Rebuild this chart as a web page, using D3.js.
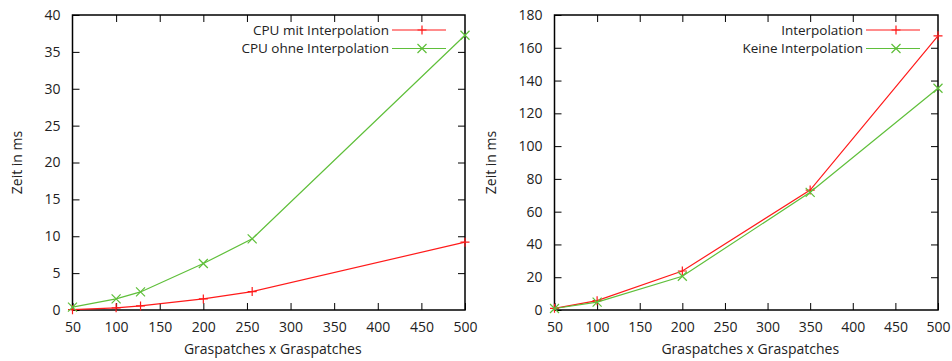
<!DOCTYPE html>
<html><head><meta charset="utf-8">
<script src="https://cdn.jsdelivr.net/npm/d3@7"></script>
<style>
body{margin:0;background:#fff;}
text{font-family:"Open Sans","Noto Sans",sans-serif;fill:#222;}
</style></head>
<body><svg id="c" width="952" height="361"></svg>
<script>
// Left chart
const leftXMit = [50, 100, 128, 200, 256, 500];
const leftMit = [0.05, 0.3, 0.55, 1.5, 2.5, 9.2];
const leftXOhne = [50, 100, 128, 200, 256, 500];
const leftOhne = [0.4, 1.5, 2.45, 6.3, 9.65, 37.25];
const leftNames = ["CPU mit Interpolation", "CPU ohne Interpolation"];
const leftYTicks = [0, 5, 10, 15, 20, 25, 30, 35, 40];
// Right chart
const rightX = [50, 100, 200, 350, 500];
const rightInterp = [1.0, 5.7, 23.8, 73.2, 167.3];
const rightKeine = [0.9, 4.8, 20.6, 71.8, 135.3];
const rightNames = ["Interpolation", "Keine Interpolation"];
const rightYTicks = [0, 20, 40, 60, 80, 100, 120, 140, 160, 180];
const xTicks = [50, 100, 150, 200, 250, 300, 350, 400, 450, 500];
const xLabel = "Graspatches x Graspatches";
const yLabel = "Zeit in ms";

const RED = "#ff1a1a", GREEN = "#5fbf3a";
const svg = d3.select("#c");

function chart(opts) {
  const {x0, x1, y0, y1, ymax, yTicks, series, names, legendRight, ylabX} = opts;
  const x = d3.scaleLinear().domain([50, 500]).range([x0, x1]);
  const y = d3.scaleLinear().domain([0, ymax]).range([y1, y0]);
  const g = svg.append("g");
  const tl = 7;
  g.append("g").attr("transform", `translate(0,${y1})`)
    .call(d3.axisBottom(x).tickValues(xTicks).tickSize(-tl).tickPadding(12))
    .call(a => { a.select(".domain").remove(); a.selectAll("text").style("font-size","14px").attr("fill","#222"); a.selectAll("line").attr("stroke","#000"); });
  g.append("g").attr("transform", `translate(0,${y0})`)
    .call(d3.axisTop(x).tickValues(xTicks.slice(1, -1)).tickSize(-tl).tickFormat(""))
    .call(a => { a.select(".domain").remove(); a.selectAll("line").attr("stroke","#000"); });
  g.append("g").attr("transform", `translate(${x0},0)`)
    .call(d3.axisLeft(y).tickValues(yTicks).tickSize(-tl).tickPadding(12))
    .call(a => { a.select(".domain").remove(); a.selectAll("text").style("font-size","14px").attr("fill","#222"); a.selectAll("line").attr("stroke","#000"); });
  g.append("g").attr("transform", `translate(${x1},0)`)
    .call(d3.axisRight(y).tickValues(yTicks.slice(1, -1)).tickSize(-tl).tickFormat(""))
    .call(a => { a.select(".domain").remove(); a.selectAll("line").attr("stroke","#000"); });
  g.append("rect").attr("x", x0).attr("y", y0).attr("width", x1 - x0).attr("height", y1 - y0)
    .attr("fill", "none").attr("stroke", "#000").attr("stroke-width", 1.5);

  const line = d3.line().x(d => x(d[0])).y(d => y(d[1]));
  const ms = 4.5;
  function marker(sel, type, cx, cy, color) {
    if (type === "plus") {
      sel.append("path").attr("d", `M${cx-ms},${cy}H${cx+ms}M${cx},${cy-ms}V${cy+ms}`)
        .attr("stroke", color).attr("stroke-width", 1.2).attr("fill", "none");
    } else {
      sel.append("path").attr("d", `M${cx-ms},${cy-ms}L${cx+ms},${cy+ms}M${cx-ms},${cy+ms}L${cx+ms},${cy-ms}`)
        .attr("stroke", color).attr("stroke-width", 1.2).attr("fill", "none");
    }
  }
  series.forEach((s, i) => {
    const pts = s.xs.map((v, j) => [v, s.ys[j]]);
    g.append("path").datum(pts).attr("d", line).attr("fill", "none")
      .attr("stroke", s.color).attr("stroke-width", 1.2);
    pts.forEach(p => marker(g, s.type, x(p[0]), y(p[1]), s.color));
    const ly = 30 + i * 18.5;
    g.append("text").attr("x", legendRight).attr("y", ly).attr("dy", "0.35em")
      .attr("text-anchor", "end").style("font-size", "13.5px").text(names[i]);
    g.append("line").attr("x1", legendRight + 3).attr("x2", legendRight + 57)
      .attr("y1", ly).attr("y2", ly).attr("stroke", s.color).attr("stroke-width", 1.2);
    marker(g, s.type, legendRight + 33, ly, s.color);
  });
  g.append("text").attr("x", (x0 + x1) / 2 + 4).attr("y", 354).attr("text-anchor", "middle")
    .style("font-size", "14px").text(xLabel);
  g.append("text").attr("transform", `translate(${ylabX},${(y0 + y1) / 2}) rotate(-90)`)
    .attr("text-anchor", "middle").style("font-size", "14px").text(yLabel);
}

chart({x0: 72.5, x1: 465, y0: 15, y1: 310, ymax: 40, yTicks: leftYTicks,
  series: [{xs: leftXMit, ys: leftMit, color: RED, type: "plus"},
           {xs: leftXOhne, ys: leftOhne, color: GREEN, type: "x"}],
  names: leftNames, legendRight: 389, ylabX: 22});
chart({x0: 554.5, x1: 938, y0: 15, y1: 310, ymax: 180, yTicks: rightYTicks,
  series: [{xs: rightX, ys: rightInterp, color: RED, type: "plus"},
           {xs: rightX, ys: rightKeine, color: GREEN, type: "x"}],
  names: rightNames, legendRight: 863, ylabX: 496});
</script></body></html>
